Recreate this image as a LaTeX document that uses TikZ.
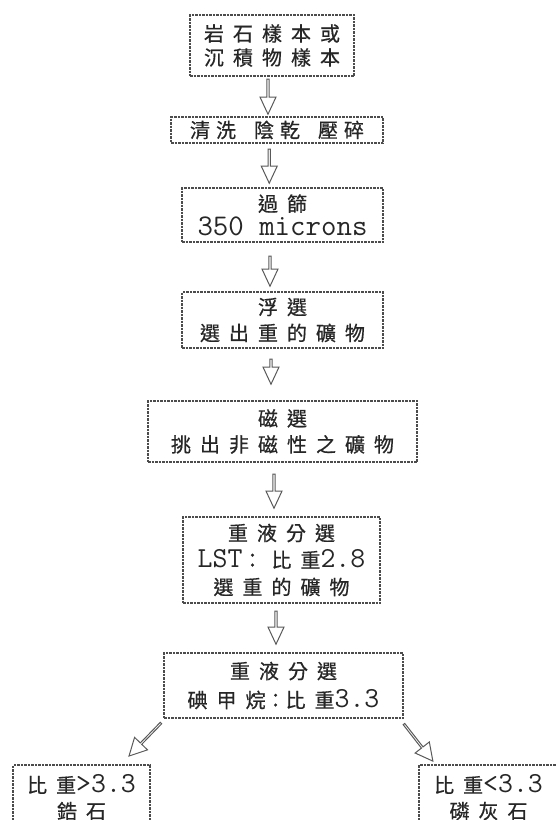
\documentclass[tikz,border=0pt]{standalone}
\usepackage{fontspec}
\newfontfamily\cjk[LetterSpace=45, FakeBold=0.6]{Noto Sans CJK TC}
\newfontfamily\cjktight[LetterSpace=30, FakeBold=0.6]{Noto Sans CJK TC}
\usetikzlibrary{shapes.arrows,calc}
\newcommand\zh[1]{{\cjk\fontsize{20}{26}\selectfont #1}}
\newcommand\zht[1]{{\cjktight\fontsize{20}{26}\selectfont #1}}

\begin{document}
\begin{tikzpicture}[
    x=1pt, y=-1pt,
    box/.style={draw=black!70, line width=1.3pt, dash pattern=on 2.5pt off 1pt, align=center, inner sep=0pt, text=black!85, font=\ttfamily\fontsize{29}{26}\selectfont},
    flow/.style={single arrow, draw=black!65, line width=1pt, fill=white, inner sep=0pt, minimum width=16pt, single arrow head extend=3pt, single arrow tip angle=50, rotate=-90},
    slant/.style={single arrow, draw=black!65, line width=1pt, fill=white, inner sep=0pt, minimum width=18pt, single arrow head extend=4pt, single arrow tip angle=55, sloped, allow upside down}
]
\useasboundingbox (0,0) rectangle (556,820);
\clip (0,0) rectangle (556,820);

% preparation
\node[box, minimum width=164pt, minimum height=61pt, font=\ttfamily\fontsize{29}{24}\selectfont] (sample) at (272,45.5) {\zh{岩石樣本或}\\\zh{沉積物樣本}};
\node[box, minimum width=212pt, minimum height=26pt] (wash) at (277,130) {\zht{清洗}\hspace*{18pt}\zht{陰乾}\hspace*{18pt}\zht{壓碎}};
\node[box, minimum width=201pt, minimum height=54pt, font=\ttfamily\fontsize{30}{24}\selectfont] (sieve) at (282.5,215) {\zh{過篩}\\350 microns};

% separation
\node[box, minimum width=201pt, minimum height=56pt] (float) at (282.5,320) {\zh{浮選}\\\zh{選出重的礦物}};
\node[box, minimum width=269pt, minimum height=61pt] (magnet) at (282.5,431.5) {\zh{磁選}\\\zh{挑出非磁性之礦物}};
\node[box, minimum width=197pt, minimum height=86pt, font=\ttfamily\fontsize{29}{27}\selectfont] (lst) at (281.5,560) {\zh{重液分選}\\LST\zh{：比重}2.8\\\zh{選重的礦物}};
\node[box, minimum width=239pt, minimum height=65pt, font=\ttfamily\fontsize{29}{29}\selectfont] (mi) at (283.5,685.5) {\zh{重液分選}\\\zh{碘甲烷}\zht{：}\zh{比重}3.3};

% products
\node[box, minimum width=137pt, minimum height=65pt] (zircon) at (81.5,797.5) {\zh{比重}>3.3\\\zh{鋯石}};
\node[box, minimum width=139pt, minimum height=65pt] (apatite) at (488.5,797.5) {\zh{比重}<3.3\\\zh{磷灰石}};

\path (sample.south) -- node[xshift=-6.5pt, yshift=1pt, flow, minimum height=35pt]{} (wash.north);
\path (wash.south) -- node[xshift=-10.5pt, yshift=0.5pt, flow, minimum height=34pt]{} (sieve.north);
\path (sieve.south) -- node[xshift=-12.5pt, yshift=-3pt, flow, minimum height=30pt]{} (float.north);
\path (float.south) -- node[xshift=-11.5pt, yshift=4pt, flow, minimum height=25pt]{} (magnet.north);
\path (magnet.south) -- node[xshift=-8pt, yshift=-0.5pt, flow, minimum height=34pt]{} (lst.north);
\path (lst.south) -- node[xshift=-6.5pt, yshift=1.5pt, flow, minimum height=33pt]{} (mi.north);

\coordinate (ltip) at (130,755);
\coordinate (rtip) at (432,760);
\path ($(mi.south west)+(-2,4)$) -- node[slant, minimum height=46pt]{} (ltip);
\path ($(mi.south east)+(0,5)$) -- node[slant, minimum height=47pt]{} (rtip);
\end{tikzpicture}
\end{document}
